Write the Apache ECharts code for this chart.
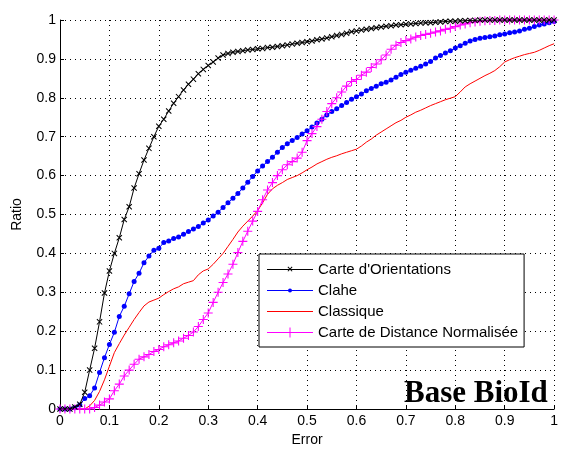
<!DOCTYPE html>
<html>
<head>
<meta charset="utf-8">
<script src="https://cdn.jsdelivr.net/npm/echarts@6/dist/echarts.min.js"></script>
<style>html,body{margin:0;padding:0;background:#fff}#c{width:561px;height:452px}</style>
</head>
<body>
<div id="c"></div>
<script>
// Error values (x) at 0.01 steps
const errors = [];
for (let i = 0; i <= 100; i++) errors.push(+(i / 100).toFixed(2));

const xTickLabels = ['0','0.1','0.2','0.3','0.4','0.5','0.6','0.7','0.8','0.9','1'];
const yTickLabels = ['0','0.1','0.2','0.3','0.4','0.5','0.6','0.7','0.8','0.9','1'];

const seriesNames = ['Carte d\'Orientations', 'Clahe', 'Classique', 'Carte de Distance Normalisée'];

const carteOrientations = [
  0,0,0,0.005,0.012,0.043,0.10,0.156,0.224,0.298,
  0.355,0.40,0.44,0.487,0.52,0.568,0.605,0.64,0.67,0.70,
  0.727,0.745,0.766,0.786,0.803,0.82,0.835,0.848,0.862,0.873,
  0.883,0.892,0.902,0.91,0.914,0.917,0.919,0.921,0.923,0.924,
  0.926,0.927,0.929,0.930,0.932,0.934,0.936,0.938,0.940,0.942,
  0.944,0.946,0.949,0.951,0.954,0.957,0.960,0.963,0.966,0.970,
  0.972,0.974,0.976,0.978,0.980,0.982,0.984,0.985,0.987,0.988,
  0.989,0.990,0.991,0.992,0.993,0.993,0.994,0.995,0.996,0.997,
  0.997,0.998,0.998,0.999,0.999,1,1,1,1,1,
  1,1,1,1,1,1,1,1,1,1,1
];
const clahe = [
  0,0,0,0.003,0.01,0.027,0.034,0.054,0.094,0.132,
  0.166,0.197,0.238,0.264,0.296,0.328,0.349,0.376,0.393,0.408,
  0.413,0.428,0.432,0.438,0.442,0.449,0.456,0.463,0.469,0.478,
  0.486,0.496,0.506,0.518,0.530,0.542,0.554,0.568,0.583,0.598,
  0.612,0.625,0.636,0.647,0.660,0.672,0.682,0.690,0.698,0.707,
  0.715,0.725,0.735,0.745,0.756,0.765,0.772,0.780,0.788,0.796,
  0.803,0.810,0.818,0.824,0.830,0.836,0.840,0.846,0.853,0.860,
  0.866,0.871,0.876,0.881,0.887,0.893,0.902,0.909,0.915,0.921,
  0.928,0.934,0.940,0.946,0.950,0.953,0.955,0.957,0.959,0.962,
  0.964,0.967,0.969,0.972,0.976,0.979,0.983,0.987,0.990,0.993,0.996
];
const classique = [
  0,0,0,0,0,0,0.008,0.022,0.045,0.075,
  0.11,0.145,0.168,0.19,0.21,0.23,0.248,0.265,0.275,0.28,
  0.285,0.294,0.302,0.309,0.314,0.322,0.326,0.33,0.345,0.355,
  0.36,0.372,0.386,0.400,0.418,0.436,0.455,0.470,0.483,0.496,
  0.510,0.530,0.552,0.566,0.575,0.582,0.590,0.595,0.600,0.607,
  0.615,0.622,0.630,0.636,0.642,0.647,0.651,0.656,0.660,0.664,
  0.668,0.676,0.686,0.694,0.704,0.712,0.720,0.728,0.736,0.742,
  0.750,0.756,0.763,0.768,0.774,0.780,0.785,0.790,0.795,0.799,
  0.803,0.815,0.828,0.836,0.843,0.850,0.857,0.863,0.870,0.880,
  0.892,0.898,0.903,0.907,0.911,0.914,0.917,0.922,0.928,0.934,0.939
];
const carteDistance = [
  0,0,0,0,0,0,0,0.004,0.01,0.018,
  0.026,0.047,0.064,0.085,0.10,0.115,0.128,0.134,0.14,0.148,
  0.153,0.16,0.165,0.17,0.175,0.182,0.189,0.198,0.212,0.23,
  0.247,0.274,0.30,0.325,0.347,0.372,0.402,0.431,0.457,0.483,
  0.508,0.538,0.563,0.582,0.60,0.615,0.628,0.636,0.645,0.66,
  0.69,0.708,0.726,0.745,0.765,0.785,0.80,0.815,0.83,0.842,
  0.847,0.858,0.866,0.878,0.887,0.898,0.91,0.925,0.935,0.942,
  0.947,0.951,0.956,0.960,0.963,0.966,0.969,0.972,0.976,0.979,
  0.983,0.987,0.990,0.993,0.995,0.997,0.998,0.999,0.999,1,
  1,1,1,1,1,1,1,1,1,1,1
];

const pairs = ys => errors.map((x, i) => [x, ys[i]]);

const xSym = 'path://M0,1.2L1.2,0L10,8.8L8.8,10Z M8.8,0L10,1.2L1.2,10L0,8.8Z';
const plusSym = 'path://M4.4,0H5.6V10H4.4Z M0,4.4H10V5.6H0Z';
// legend icons drawn in a 46x15 box (bbox corners fixed by tiny triangles)
const box = 'M0,0L0.02,0L0,0.02Z M46,15L45.98,15L46,14.98Z ';
const legLine = 'M0,7H46V8H0Z ';
const legIcons = [
  'path://' + box + legLine + 'M20.5,5.3L21.2,4.6L25.5,8.9L24.8,9.6Z M24.8,4.6L25.5,5.3L21.2,9.6L20.5,8.9Z',
  'path://' + box + legLine + 'M21,7.5A2,2 0 1,1 25,7.5A2,2 0 1,1 21,7.5Z',
  'path://' + box + legLine,
  'path://' + box + legLine + 'M22.5,2.5H23.5V12.5H22.5Z'
];
const FONT = '"Liberation Sans", Arial, sans-serif';
const colors = ['#000000', '#0000ff', '#ff0000', '#ff00ff'];

const chart = echarts.init(document.getElementById('c'));
chart.setOption({
  animation: false,
  backgroundColor: '#fff',
  grid: { left: 60, right: 2, top: 20, bottom: 40 },
  xAxis: {
    type: 'value', min: 0, max: 1, interval: 0.1,
    name: 'Error', nameLocation: 'middle', nameGap: 24,
    nameTextStyle: { color: '#000', fontSize: 14, fontFamily: FONT },
    axisLine: { lineStyle: { color: '#000', width: 1 } },
    axisTick: { inside: true, length: 4, lineStyle: { color: '#000' } },
    axisLabel: { color: '#000', fontSize: 14, fontFamily: FONT, margin: 5,
      formatter: v => xTickLabels[Math.round(v * 10)] },
    splitLine: { show: true, lineStyle: { color: '#000', type: [1, 4], width: 1 } }
  },
  yAxis: {
    type: 'value', min: 0, max: 1, interval: 0.1,
    name: 'Ratio', nameLocation: 'middle', nameGap: 36,
    nameTextStyle: { color: '#000', fontSize: 14, fontFamily: FONT },
    axisLine: { show: true, lineStyle: { color: '#000', width: 1 } },
    axisTick: { show: true, inside: true, length: 4, lineStyle: { color: '#000' } },
    axisLabel: { color: '#000', fontSize: 14, fontFamily: FONT, margin: 4,
      formatter: v => yTickLabels[Math.round(v * 10)] },
    splitLine: { show: true, lineStyle: { color: '#000', type: [1, 4], width: 1 } }
  },
  legend: {
    orient: 'vertical', left: 259, top: 254,
    backgroundColor: '#fff', borderColor: '#000', borderWidth: 1,
    padding: [8, 6, 7, 8], itemWidth: 46, itemHeight: 15, itemGap: 6,
    textStyle: { color: '#000', fontSize: 15, fontFamily: FONT },
    data: seriesNames.map((n, i) => ({ name: n, icon: legIcons[i], itemStyle: { color: colors[i] } }))
  },
  graphic: [{
    type: 'text', left: 404, top: 378, z: 100,
    style: { text: 'Base BioId', fill: '#000', font: 'bold 31px "Liberation Serif", "Times New Roman", serif' }
  }],
  series: [
    { name: seriesNames[0], type: 'line', data: pairs(carteOrientations),
      symbol: xSym, symbolSize: 6, showAllSymbol: true,
      lineStyle: { color: colors[0], width: 1 }, itemStyle: { color: colors[0] }, z: 4 },
    { name: seriesNames[1], type: 'line', data: pairs(clahe),
      symbol: 'circle', symbolSize: 5, showAllSymbol: true,
      lineStyle: { color: colors[1], width: 1 }, itemStyle: { color: colors[1] }, z: 3 },
    { name: seriesNames[2], type: 'line', data: pairs(classique),
      symbol: 'none',
      lineStyle: { color: colors[2], width: 1 }, itemStyle: { color: colors[2] }, z: 2 },
    { name: seriesNames[3], type: 'line', data: pairs(carteDistance),
      symbol: plusSym, symbolSize: 9, showAllSymbol: true,
      lineStyle: { color: colors[3], width: 1 }, itemStyle: { color: colors[3] }, z: 3 }
  ]
});
</script>
</body>
</html>
